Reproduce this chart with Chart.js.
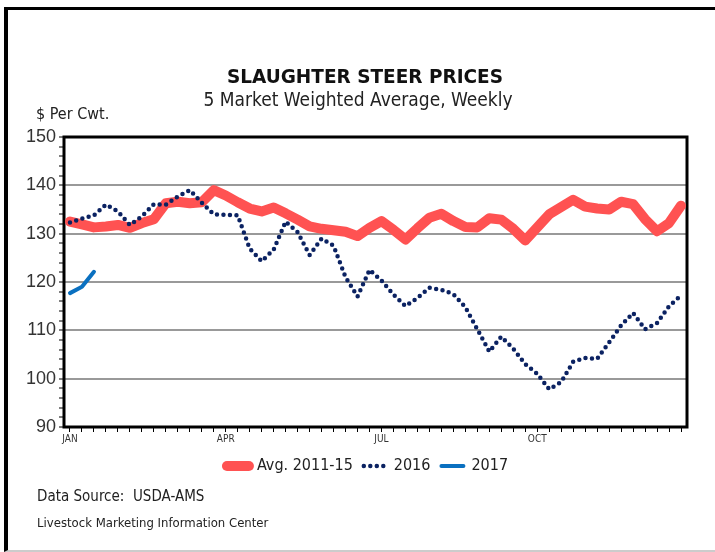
<!DOCTYPE html>
<html>
<head>
<meta charset="utf-8">
<script src="https://cdn.jsdelivr.net/npm/chart.js@4.4.1/dist/chart.umd.min.js"></script>
<style>
  html, body { margin: 0; padding: 0; background: #fff; }
  body { width: 715px; height: 552px; position: relative; overflow: hidden;
         font-family: "Liberation Sans Narrow", "DejaVu Sans Condensed", "Liberation Sans", sans-serif; color: #222; }
  #frame { position: absolute; left: 4px; top: 7px; width: 760px; height: 540px;
           border-left: 4px solid #000; border-top: 3px solid #000; border-bottom: 2px solid #ccc; }
  canvas { position: absolute; left: 0; top: 0; }
  .t { position: absolute; white-space: nowrap; line-height: 1; }
  #title { left: 365px; top: 67px; transform: translateX(-50%) scaleX(1.08); font-weight: bold; font-size: 19px; color: #111; }
  #sub { left: 358px; top: 90px; transform: translateX(-50%); font-size: 19px; }
  #unit { left: 36px; top: 106px; font-size: 16px; }
  #src { left: 37px; top: 489px; font-size: 15px; }
  #lmic { left: 37px; top: 516px; font-size: 13px; }
</style>
</head>
<body>
<div id="frame"></div>
<canvas id="steerChart" width="715" height="552"></canvas>
<div class="t" id="title">SLAUGHTER STEER PRICES</div>
<div class="t" id="sub">5 Market Weighted Average, Weekly</div>
<div class="t" id="unit">$ Per Cwt.</div>
<div class="t" id="src">Data Source:&nbsp; USDA-AMS</div>
<div class="t" id="lmic">Livestock Marketing Information Center</div>
<script>
const weeks = [1, 2, 3, 4, 5, 6, 7, 8, 9, 10, 11, 12, 13, 14, 15, 16, 17, 18, 19, 20, 21, 22, 23, 24, 25, 26,
  27, 28, 29, 30, 31, 32, 33, 34, 35, 36, 37, 38, 39, 40, 41, 42, 43, 44, 45, 46, 47, 48, 49, 50, 51, 52];
const monthTicks = ['JAN', 'APR', 'JUL', 'OCT'];
const monthWeeks = [1, 14, 27, 40];

const avg1115 = [132.5, 131.9, 131.3, 131.5, 131.8, 131.2, 132.2, 133.0, 136.3, 136.6,
  136.3, 136.5, 139.0, 137.9, 136.5, 135.2, 134.6, 135.4, 134.2, 132.9,
  131.5, 131.0, 130.7, 130.4, 129.5, 131.2, 132.6, 130.8, 128.8, 131.1,
  133.3, 134.1, 132.6, 131.4, 131.3, 133.2, 132.9, 131.0, 128.6, 131.3,
  134.0, 135.5, 137.0, 135.6, 135.2, 135.0, 136.6, 136.1, 133.0, 130.5,
  132.2, 135.8];
const y2016 = [132.3, 133.1, 133.8, 136.0, 134.6, 131.8, 133.6, 136.1, 136.0, 137.7,
  139.0, 136.4, 134.0, 133.9, 133.8, 126.9, 124.3, 126.7, 132.5, 130.3,
  125.6, 129.0, 127.5, 121.0, 117.0, 122.5, 120.3, 117.4, 115.0, 116.7,
  118.8, 118.4, 117.5, 114.8, 110.2, 105.6, 108.7, 106.2, 103.0, 101.0,
  97.8, 99.3, 103.5, 104.3, 104.1, 107.5, 111.0, 113.6, 110.2, 111.5,
  115.0, 117.2];
const y2017 = [117.7, 119.0, 122.1];

const narrow = '"Liberation Sans Narrow", "DejaVu Sans Condensed", "Liberation Sans", sans-serif';

// weekly categories, only the quarter starts get a label
const labels = weeks.map(w => {
  const k = monthWeeks.indexOf(w);
  return k >= 0 ? monthTicks[k] : '';
});

const plotFrame = {
  id: 'plotFrame',
  afterLayout(chart) {
    // nudge the legend row a little left, like the original
    chart.legend.left -= 8;
    chart.legend.right -= 8;
  },
  beforeDatasetsDraw(chart) {
    const { ctx, chartArea: a } = chart;
    ctx.save();
    ctx.strokeStyle = '#000';
    ctx.lineWidth = 3;
    ctx.strokeRect(a.left, a.top, a.right - a.left, a.bottom - a.top);
    ctx.restore();
  }
};

new Chart(document.getElementById('steerChart'), {
  type: 'line',
  data: {
    labels: labels,
    datasets: [
      {
        label: 'Avg. 2011-15',
        data: avg1115,
        borderColor: '#ff5252',
        backgroundColor: '#ff5252',
        borderWidth: 10,
        borderCapStyle: 'round',
        borderJoinStyle: 'round',
        pointRadius: 0,
        order: 3
      },
      {
        label: '2016',
        data: y2016,
        borderColor: '#0b2262',
        backgroundColor: '#0b2262',
        borderWidth: 4.5,
        borderDash: [0, 6.5],
        borderCapStyle: 'round',
        pointRadius: 0,
        order: 2
      },
      {
        label: '2017',
        data: y2017,
        borderColor: '#0a70c0',
        backgroundColor: '#0a70c0',
        borderWidth: 4,
        borderCapStyle: 'round',
        borderJoinStyle: 'round',
        pointRadius: 0,
        order: 1
      }
    ]
  },
  options: {
    responsive: false,
    animation: false,
    layout: { padding: { left: 0, right: 28, top: 137, bottom: 68 } },
    scales: {
      x: {
        offset: true,
        border: { display: false },
        grid: { offset: false, drawOnChartArea: false, tickLength: 5, tickColor: '#000', tickWidth: 1 },
        ticks: { autoSkip: false, maxRotation: 0, padding: 1, color: '#333', font: { family: narrow, size: 10 } },
        afterFit(scale) { scale.height = 20; }
      },
      y: {
        min: 90,
        max: 150,
        border: { display: false },
        grid: {
          color: c => (c.tick.value % 10 === 0 && c.tick.value > 90 && c.tick.value < 150) ? '#999' : 'rgba(0,0,0,0)',
          lineWidth: 2,
          tickColor: '#000',
          tickWidth: 1,
          tickLength: 5
        },
        ticks: {
          stepSize: 2,
          autoSkip: false,
          padding: 3,
          color: '#333',
          font: { family: '"Liberation Sans", sans-serif', size: 18 },
          callback: v => (v % 10 === 0 ? v : '')
        },
        afterFit(scale) { scale.width = 64; }
      }
    },
    plugins: {
      legend: {
        position: 'bottom',
        fullSize: false,
        labels: {
          usePointStyle: true,
          pointStyle: 'line',
          pointStyleWidth: 22,
          padding: 11,
          color: '#222',
          font: { family: narrow, size: 16 },
          sort: (a, b) => a.datasetIndex - b.datasetIndex,
          generateLabels(chart) {
            const items = Chart.defaults.plugins.legend.labels.generateLabels(chart);
            items.forEach(it => {
              const ds = chart.data.datasets[it.datasetIndex];
              it.strokeStyle = ds.borderColor;
              it.fillStyle = ds.borderColor;
              it.lineWidth = ds.borderWidth;
              it.lineDash = ds.borderDash || [];
              it.lineCap = 'round';
              it.pointStyle = 'line';
            });
            return items;
          }
        }
      },
      tooltip: { enabled: false }
    }
  },
  plugins: [plotFrame]
});
</script>
</body>
</html>
